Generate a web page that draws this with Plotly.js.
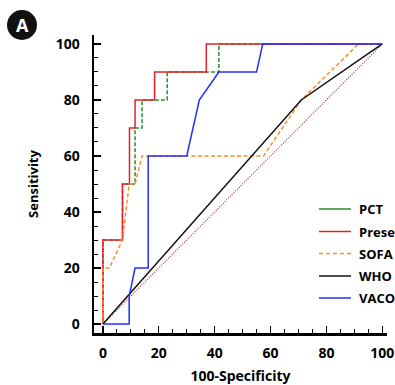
<!DOCTYPE html>
<html><head><meta charset="utf-8">
<script src="https://cdn.plot.ly/plotly-3.0.1.min.js"></script>
<style>html,body{margin:0;padding:0;background:#fff}#c{width:395px;height:385px}</style>
</head><body><div id="c"></div>
<script>
// Data (100-Specificity, Sensitivity)
const pctX = [0, 0, 7, 7, 11.5, 11.5, 14, 14, 23, 23, 41.5, 41.5, 100];
const pctY = [0, 30, 30, 50, 50, 70, 70, 80, 80, 90, 90, 100, 100];
const presepX = [0, 0, 7, 7, 9.5, 9.5, 11.5, 11.5, 18.5, 18.5, 37, 37, 100];
const presepY = [0, 30, 30, 50, 50, 70, 70, 80, 80, 90, 90, 100, 100];
const sofaX = [0, 0, 2.3, 7, 9.4, 11.5, 14, 57.5, 71, 91.5, 100];
const sofaY = [0, 20, 20, 30, 50, 50, 60, 60, 80, 100, 100];
const whoX = [0, 71, 100];
const whoY = [0, 80, 100];
const vacoX = [0, 9.4, 9.4, 11.5, 16.2, 16.2, 30, 34.5, 41.5, 55, 57.2, 100];
const vacoY = [0, 0, 10, 20, 20, 60, 60, 80, 90, 90, 100, 100];
const refX = [0, 100];
const refY = [0, 100];
const names = ["PCT", "Presepsin", "SOFA", "WHO", "VACO"];
const xTicks = [0, 20, 40, 60, 80, 100];
const yTicks = [0, 20, 40, 60, 80, 100];

const cGreen = "#2e8b2e", cRed = "#e0242a", cOrange = "#ff8c2a", cBlack = "#111111", cBlue = "#1f2fff";
const legColors = [cGreen, cRed, cOrange, cBlack, cBlue];
const legDash = ["solid", "solid", "4px,3px", "solid", "solid"];

const traces = [
  {x: refX, y: refY, mode: "lines", line: {color: "#a83238", width: 1.2, dash: "1px,1.5px"}},
  {x: pctX, y: pctY, mode: "lines", line: {color: cGreen, width: 1.5, dash: "4px,2px"}},
  {x: presepX, y: presepY, mode: "lines", line: {color: cRed, width: 1.5}},
  {x: sofaX, y: sofaY, mode: "lines", line: {color: cOrange, width: 1.5, dash: "4px,2.5px"}},
  {x: whoX, y: whoY, mode: "lines", line: {color: cBlack, width: 1.5}},
  {x: vacoX, y: vacoY, mode: "lines", line: {color: cBlue, width: 1.5}}
];

// plot-area geometry (pixels) for placing the hand-drawn legend
const M = {l: 94, r: 8, t: 35, b: 52}, W = 395, H = 385;
const pw = W - M.l - M.r, ph = H - M.t - M.b;
const px = v => (v - M.l) / pw;
const py = v => (H - M.b - v) / ph;

const fontFam = "Open Sans, sans-serif";
const axisCommon = {
  showline: true, linecolor: "#000", linewidth: 2.5, mirror: false,
  showgrid: false, zeroline: false,
  ticks: "inside", ticklen: 7, tickwidth: 1.2, tickcolor: "#000",
  minor: {dtick: 5, ticks: "inside", ticklen: 4, tickwidth: 1, tickcolor: "#000"},
  tickfont: {family: fontFam, size: 14, color: "#000", weight: "bold"},
  fixedrange: true
};

const shapes = [{type: "circle", xref: "paper", yref: "paper", xsizemode: "pixel", ysizemode: "pixel",
            xanchor: px(22), yanchor: py(25), x0: -15, x1: 15, y0: -15, y1: 15,
            fillcolor: "#111", line: {width: 0}}];
const annotations = [{text: "A", xref: "paper", yref: "paper", x: px(22), y: py(25), showarrow: false,
                 xanchor: "center", yanchor: "middle",
                 font: {family: fontFam, size: 18, color: "#fff", weight: "bold"}}];
const legRows = [209, 231.5, 253.5, 276, 298];
names.forEach((n, i) => {
  shapes.push({type: "line", xref: "paper", yref: "paper", x0: px(319), x1: px(351), y0: py(legRows[i]), y1: py(legRows[i]),
               line: {color: legColors[i], width: 1.5, dash: legDash[i]}});
  annotations.push({text: n, xref: "paper", yref: "paper", x: px(357), y: py(legRows[i]), showarrow: false,
                    xanchor: "left", yanchor: "middle",
                    font: {family: fontFam, size: 13, color: "#000", weight: "bold"}});
});

const layout = {
  width: W, height: H,
  margin: M,
  paper_bgcolor: "#fff", plot_bgcolor: "#fff",
  showlegend: false,
  xaxis: Object.assign({}, axisCommon, {
    range: [-3.2, 101.7], tickvals: xTicks, ticktext: xTicks.map(String),
    ticklabelstandoff: 6,
    title: {text: "100-Specificity", font: {family: fontFam, size: 14, color: "#000", weight: "bold"}, standoff: 12}
  }),
  yaxis: Object.assign({}, axisCommon, {
    range: [-3.2, 103.2], tickvals: yTicks, ticktext: yTicks.map(String),
    ticklabelstandoff: 9,
    title: {text: "Sensitivity", font: {family: fontFam, size: 13, color: "#000", weight: "bold"}, standoff: 14}
  }),
  shapes: shapes,
  annotations: annotations
};

Plotly.newPlot("c", traces, layout, {displayModeBar: false, staticPlot: true});
</script></body></html>
